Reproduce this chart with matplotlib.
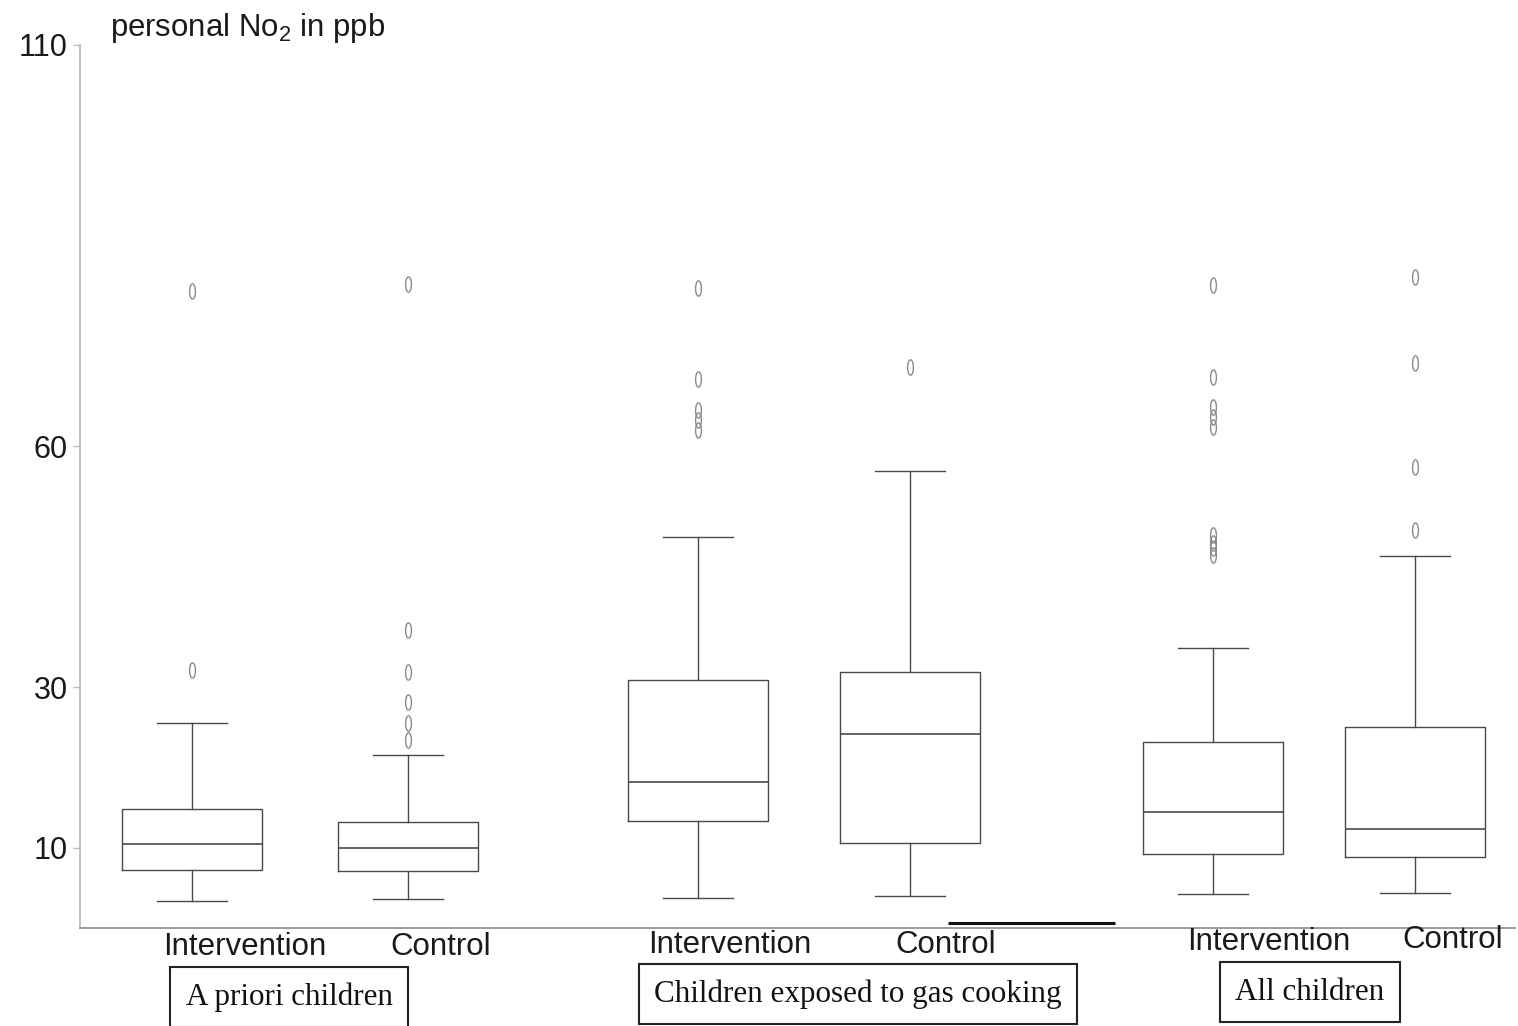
import numpy as np
import matplotlib
matplotlib.use("Agg")
import matplotlib.pyplot as plt
from matplotlib.path import Path

plt.rcParams["font.family"] = ["Liberation Sans", "DejaVu Sans"]
plt.rcParams["mathtext.fontset"] = "custom"
plt.rcParams["mathtext.rm"] = "Liberation Sans"
plt.rcParams["mathtext.it"] = "Liberation Sans:italic"

# Personal NO2 (ppb) summary statistics per study group
groups = ["A priori children", "Children exposed to gas cooking", "All children"]
arms = ["Intervention", "Control"]

whisker_low = [3.4, 3.6, 3.7, 4.0, 4.2, 4.4]
q1 = [7.2, 7.1, 13.3, 10.6, 9.2, 8.8]
median = [10.5, 10.0, 18.2, 24.2, 14.4, 12.3]
q3 = [14.8, 13.2, 30.9, 31.9, 23.2, 25.0]
whisker_high = [25.6, 21.5, 48.7, 56.9, 34.9, 46.3]
outliers = [
    [32.1, 79.3],
    [23.4, 25.6, 28.1, 31.9, 37.1, 80.2],
    [62.0, 63.3, 64.5, 68.4, 79.7],
    [69.9],
    [46.5, 47.3, 48.0, 49.0, 62.4, 63.6, 64.9, 68.7, 80.1],
    [49.6, 57.4, 70.4, 81.1],
]
yticks = [10, 30, 60, 110]

# Layout (horizontal placement in pixel-like units from the y axis)
box_pos = [112, 328, 618, 830, 1133, 1335]
arm_label_x = [83, 310, 568, 815, 1107, 1322]
arm_label_y = [-0.005, -0.005, -0.002, -0.002, 0.001, 0.003]
group_label_x = [209, 778, 1230]
group_label_y = [-0.078, -0.0747, -0.0725]

fig = plt.figure(figsize=(15.18, 10.26), dpi=100)
ax = fig.add_axes([80 / 1518, 1 - 928 / 1026, 1435 / 1518, (928 - 45) / 1026])
ax.set_xlim(0, 1435)
ax.set_ylim(0, 110)

stats = []
for i in range(len(median)):
    stats.append(dict(whislo=whisker_low[i], q1=q1[i], med=median[i],
                      q3=q3[i], whishi=whisker_high[i], fliers=outliers[i]))

# narrow upright ellipse, drawn like a small "0"
t = np.linspace(0, 2 * np.pi, 40)
ellipse = Path(np.column_stack([0.38 * np.cos(t), np.sin(t)]))

line_c = "#4a4a4a"
ax.bxp(stats, positions=box_pos, widths=140, showfliers=True,
       boxprops=dict(color=line_c, lw=1.0),
       whiskerprops=dict(color=line_c, lw=1.0),
       capprops=dict(color=line_c, lw=1.0),
       medianprops=dict(color=line_c, lw=1.2),
       flierprops=dict(marker=ellipse, markersize=11, markerfacecolor="none",
                       markeredgecolor="#8a8a8a", markeredgewidth=1.0))

ax.spines["top"].set_visible(False)
ax.spines["right"].set_visible(False)
ax.spines["left"].set_color("#b8b8b8")
ax.spines["bottom"].set_color("#8a8a8a")
ax.spines["left"].set_linewidth(1.2)
ax.spines["bottom"].set_linewidth(1.2)

ax.set_yticks(yticks)
ax.set_yticklabels([str(v) for v in yticks], fontsize=22, color="#1a1a1a")
ax.tick_params(axis="y", length=5, width=1, color="#c0c0c0", pad=4)
ax.set_xticks([])

# short heavy rule on the baseline
ax.plot([868, 1035], [0.6, 0.6], color="#111111", lw=2.2, solid_capstyle="butt",
        clip_on=False)

trans = ax.get_xaxis_transform()
for i, x in enumerate(arm_label_x):
    ax.text(x, arm_label_y[i], arms[i % 2], transform=trans, fontsize=22.5,
            ha="left", va="top", color="#1a1a1a")

for x, y, g in zip(group_label_x, group_label_y, groups):
    ax.text(x, y, g, transform=trans, fontsize=22.4, ha="center", va="center",
            family=["Liberation Serif", "DejaVu Serif"], color="#111111",
            bbox=dict(boxstyle="square,pad=0.5", fc="white", ec="#222222", lw=1.5))

fig.text(110 / 1518, 1 - 28 / 1026, "personal No$_2$ in ppb", fontsize=22.4,
         ha="left", va="center", color="#1a1a1a")

fig.savefig("out.png", dpi=100, facecolor="white")
